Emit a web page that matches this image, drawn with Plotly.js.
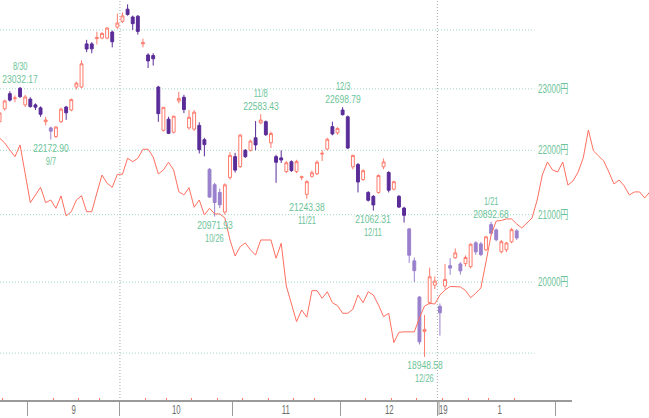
<!DOCTYPE html>
<html><head><meta charset="utf-8">
<script src="https://cdn.plot.ly/plotly-3.0.1.min.js"></script>
<style>html,body{margin:0;padding:0;background:#fff}#chart{width:649px;height:418px}</style>
</head><body><div id="chart"></div>
<script>
// trading sessions (2018/8/24 - 2019/1/28)
const dates = ['8/24','8/27','8/28','8/29','8/30','8/31',
'9/3','9/4','9/5','9/6','9/7','9/10','9/11','9/12','9/13','9/14','9/18','9/19','9/20','9/21','9/25','9/26','9/27','9/28',
'10/1','10/2','10/3','10/4','10/5','10/9','10/10','10/11','10/12','10/15','10/16','10/17','10/18','10/19','10/22','10/23','10/24','10/25','10/26','10/29','10/30','10/31',
'11/1','11/2','11/5','11/6','11/7','11/8','11/9','11/12','11/13','11/14','11/15','11/16','11/19','11/20','11/21','11/22','11/26','11/27','11/28','11/29','11/30',
'12/3','12/4','12/5','12/6','12/7','12/10','12/11','12/12','12/13','12/14','12/17','12/18','12/19','12/20','12/21','12/25','12/26','12/27','12/28',
'1/4','1/7','1/8','1/9','1/10','1/11','1/15','1/16','1/17','1/18','1/21','1/22','1/23','1/24','1/25','1/28'];

const open = [22460,22670,22920,22840,23010,22735,
22830,22735,22686,22460,22360,22220,22460,22700,22650,23030,23030,23760,23760,23850,23860,23860,23965,24050,
24150,24364,24226,24240,23760,23570,23560,23030,22320,22500,22290,22800,22860,22360,22340,22400,22170,21700,21460,21340,21040,21570,
21900,21743,22000,22000,22200,22440,22460,22120,21900,21880,21665,21820,21665,21570,21310,21590,21630,21940,22020,22380,22280,
22650,22540,21740,21775,21540,21340,21280,21340,21740,21650,21390,21280,21100,20785,20310,19785,19300,19706,19957,
19655,19944,20240,20355,20265,20270,20225,20577,20560,20473,20850,20770,20444,20473,20592,20755];

const high = [22620,22820,22960,22890,23032.17,22900,
22860,22760,22710,22540,22380,22390,22690,22720,22840,23120,23480,23830,23790,23970,23960,24050,23990,24286,
24306,24448.07,24250,24260,23850,23600,23600,23050,22700,22540,22560,22950,22900,22650,22650,22450,22200,21720,21490,21400,21480,21970,
21960,22260,22020,22170,22470,22583.43,22480,22300,21930,22000,21830,21840,21850,21600,21530,21680,21840,22000,22200,22460,22370,
22698.79,22560,21930,21800,21700,21360,21300,21620,21870,21670,21520,21300,21120,20800,20360,19800,19530,20211,20084,
19692,20266,20348,20494,20290,20390,20570,20600,20590,20680,20892.68,20790,20620,20590,20800,20780];

const low = [22420,22640,22790,22780,22850,22700,
22690,22650,22540,22400,22172.90,22200,22440,22490,22630,22990,23010,23620,23600,23750,23840,23840,23700,24020,
24120,24250,24000,23920,23700,23350,23390,22459,22300,22260,22270,22760,22600,22330,22310,21950,21905,21260,20971.93,21100,21000,21540,
21650,21720,21880,21980,22000,22420,22230,22036,21490,21800,21640,21660,21640,21530,21243.38,21570,21610,21830,22000,22240,22250,
22560,22020,21700,21340,21520,21200,21062.31,21320,21700,21340,21370,21100,20880,20280,20000,19118,18948.58,19680,19900,
19241,19900,20106,20340,20110,20230,20200,20400,20380,20460,20700,20600,20420,20440,20570,20620];

const close = [22601.77,22799.64,22813.47,22848.22,22869.50,22865.15,
22707.38,22696.90,22580.83,22487.94,22307.06,22373.09,22664.69,22604.61,22821.32,23094.67,23420.54,23672.52,23674.93,23869.93,23940.26,24033.79,23796.74,24120.04,
24245.76,24270.62,24110.11,23975.62,23783.72,23469.39,23506.04,22590.86,22694.66,22271.30,22549.24,22841.12,22658.16,22532.08,22614.82,22010.78,22091.18,21268.73,21184.60,21149.80,21457.29,21920.46,
21687.65,22243.66,21898.99,22147.75,22085.80,22486.92,22250.25,22269.88,21810.52,21846.48,21803.62,21680.34,21821.16,21583.12,21507.54,21646.55,21812.00,21952.40,22177.02,22262.60,22351.06,
22574.76,22036.05,21919.33,21501.62,21678.68,21219.50,21148.02,21602.75,21816.19,21374.83,21506.88,21115.45,20990,20392.58,20166.19,19155.74,19327.06,20077.62,20014.77,
19561.96,20038.97,20204.04,20427.06,20163.80,20359.70,20555.29,20442.75,20402.27,20666.07,20719.33,20622.91,20593.72,20574.63,20773.56,20649.00];

// red line: starts with the first session and runs 26 sessions beyond the last one
const leadLine = [22197,22117,22005,21899,22085,21627,21183,21301,21420,21183,21224,21097,21286,20980,21045,21224,21290,21045,21045,21332,21611,21482,21420,21622,
21622,21874,21820,21874,22017,22017,21894,21627,21690,21811,21690,21352,21301,21414,21113,21224,20995,21097,21011,21011,20950,20619,
20382,20520,20575,20471,20397,20619,20619,20619,20348,20570,19945,19673,19437,19602,19499,19877,19877,19768,19862,19705,19663,
19555,19555,19612,19815,19705,19862,19815,19673,19507,19555,19144,19288,19294,19294,19294,19489,19658,19697,19686,
19815,19887,19938,19938,19931,19880,19777,19840,19916,20294,20694,20904,20912,20935,20935,20859,
20799,20874,20950,21224,21611,21815,21690,21658,21815,21455,21518,21658,21880,22326,21990,21910,21831,21658,21471,21533,21440,21301,21348,21348,21255,21348];

const priceLevels = [24000,23000,22000,21000,20000,19000];
const labeledLevels = [23000,22000,21000,20000];
const monthLabels = ['9','10','11','12','19','1'];
const monthLabelPos = [14.5,34.5,56,76,86.6,97.7];
const monthEdges = [5.5,23.5,45.5,66.5,85.5,108.5];
const quarterEdges = [23.5,85.5];
const yearEdge = 85.5;
const weekStarts = ['8/27','9/10','9/18','9/25','10/9','10/15','10/22','10/29','11/5','11/12','11/19','11/26','12/10','12/17','12/25','1/7','1/15','1/21','1/28'];
const highMarks = ['8/30','10/2','11/8','12/3','1/21'];
const lowMarks = ['9/7','10/26','11/21','12/11','12/26'];

// styles
const lightDown = ['9/7','10/25','10/26','10/29','12/20','12/21','12/25','1/4','1/8','1/10','1/16','1/17','1/21','1/22','1/28'];
const UP = '#ff7b6c', DARK = '#5a2c98', LIGHT = '#9a80cc', LINE = '#ff6f60';
const GREEN = '#6cc398', GRID = '#9fd8c4', VGRID = '#a8a8a8', AXIS = '#9a9a9a';
const FONT = '"Liberation Sans", Arial, "Noto Sans CJK JP", sans-serif';
const xr = [0.078, 126.84];
const gridEnd = 104.5;
const axisEnd = 111.8;
const L = v => Math.log10(v);
const px = p => (p - xr[0]) / (xr[1] - xr[0]);

const idxAll = dates.map((d, i) => i);
function cs(filter, color, fill) {
  const idx = idxAll.filter(filter);
  const style = {line: {color: color, width: 1}, fillcolor: fill};
  return {type: 'candlestick', x: idx, open: idx.map(i => open[i]), high: idx.map(i => high[i]),
    low: idx.map(i => low[i]), close: idx.map(i => close[i]), increasing: style, decreasing: style,
    whiskerwidth: 0, hoverinfo: 'skip', showlegend: false};
}
const traces = [
  cs(i => close[i] >= open[i], UP, '#ffffff'),
  cs(i => close[i] < open[i] && !lightDown.includes(dates[i]), DARK, DARK),
  cs(i => close[i] < open[i] && lightDown.includes(dates[i]), LIGHT, LIGHT),
  {type: 'scatter', mode: 'lines', x: leadLine.map((v, i) => i), y: leadLine,
   line: {color: LINE, width: 1}, hoverinfo: 'skip', showlegend: false}
];

const shapes = [];
priceLevels.forEach(v => shapes.push({type: 'line', xref: 'x', yref: 'y', x0: xr[0], x1: gridEnd, y0: v, y1: v,
  line: {color: GRID, width: 1, dash: '1px,2px'}, layer: 'below'}));
quarterEdges.forEach(p => shapes.push({type: 'line', xref: 'x', yref: 'paper', x0: p, x1: p, y0: 0, y1: 1,
  line: {color: VGRID, width: 1, dash: '1px,2px'}, layer: 'below'}));
shapes.push({type: 'line', xref: 'paper', yref: 'paper', x0: 0, x1: px(axisEnd), y0: 0, y1: 0,
  line: {color: AXIS, width: 2}});
// double rule that marks the new year
shapes.push({type: 'line', xref: 'paper', yref: 'paper', x0: px(yearEdge) + 1.7 / 649, x1: px(yearEdge) + 1.7 / 649,
  y0: 0, y1: -14 / 401, line: {color: AXIS, width: 1}});

const annotations = [];
const squeeze = [];
const tf = (sz, c) => ({family: FONT, size: sz, color: c});
function addAnn(a, k) { annotations.push(a); squeeze.push(k); }
labeledLevels.forEach(v => addAnn({xref: 'x', yref: 'y', x: gridEnd, y: L(v), xanchor: 'left', yanchor: 'middle',
  xshift: 1, text: v + '円', showarrow: false, font: tf(12, GREEN)}, 0.67));
highMarks.forEach(d => {
  const i = dates.indexOf(d);
  addAnn({xref: 'x', yref: 'y', x: i, y: L(high[i]), yanchor: 'bottom', yshift: 0, text: high[i].toFixed(2), showarrow: false, font: tf(11.5, GREEN)}, 0.74);
  addAnn({xref: 'x', yref: 'y', x: i, y: L(high[i]), yanchor: 'bottom', yshift: 13, text: d, showarrow: false, font: tf(11.5, GREEN)}, 0.65);
});
lowMarks.forEach(d => {
  const i = dates.indexOf(d);
  addAnn({xref: 'x', yref: 'y', x: i, y: L(low[i]), yanchor: 'top', yshift: 0, text: low[i].toFixed(2), showarrow: false, font: tf(11.5, GREEN)}, 0.74);
  addAnn({xref: 'x', yref: 'y', x: i, y: L(low[i]), yanchor: 'top', yshift: -13, text: d, showarrow: false, font: tf(11.5, GREEN)}, 0.65);
});
monthLabels.forEach((t, k) => addAnn({xref: 'x', yref: 'paper', x: monthLabelPos[k], y: 0, yanchor: 'top',
  yshift: 1, text: t, showarrow: false, font: tf(13, '#6a6a6a')}, 0.6));

const layout = {
  width: 649, height: 418, margin: {l: 0, r: 0, t: 0, b: 17},
  paper_bgcolor: '#ffffff', plot_bgcolor: '#ffffff', showlegend: false, boxgap: 0.2,
  xaxis: {range: xr, showgrid: false, zeroline: false, showline: false, showticklabels: false,
    tickmode: 'array', tickvals: monthEdges, ticks: 'outside', ticklen: 14, tickwidth: 1, tickcolor: AXIS,
    minor: {tickmode: 'array', tickvals: weekStarts.map(d => dates.indexOf(d) - 0.5), ticks: 'inside', ticklen: 3, tickwidth: 1, tickcolor: UP, showgrid: false},
    rangeslider: {visible: false}, fixedrange: true},
  yaxis: {type: 'log', range: [4.263707, 4.389627], visible: false, fixedrange: true},
  shapes: shapes, annotations: annotations
};

// narrow the label glyphs the way the condensed screen font of the original looks
function condense(gd) {
  gd.querySelectorAll('g.annotation').forEach(g => {
    const n = +g.getAttribute('data-index');
    const k = squeeze[n];
    const t = g.querySelector('text.annotation-text');
    if (!t || !k) return;
    const w = t.getComputedTextLength();
    const w2 = w * k;
    t.setAttribute('textLength', w2.toFixed(2));
    t.setAttribute('lengthAdjust', 'spacingAndGlyphs');
    if (annotations[n].xanchor === 'left') t.setAttribute('transform', 'translate(' + (-(w - w2) / 2).toFixed(2) + ',0)');
  });
}
Plotly.newPlot('chart', traces, layout, {staticPlot: true, displayModeBar: false}).then(condense);
</script></body></html>
